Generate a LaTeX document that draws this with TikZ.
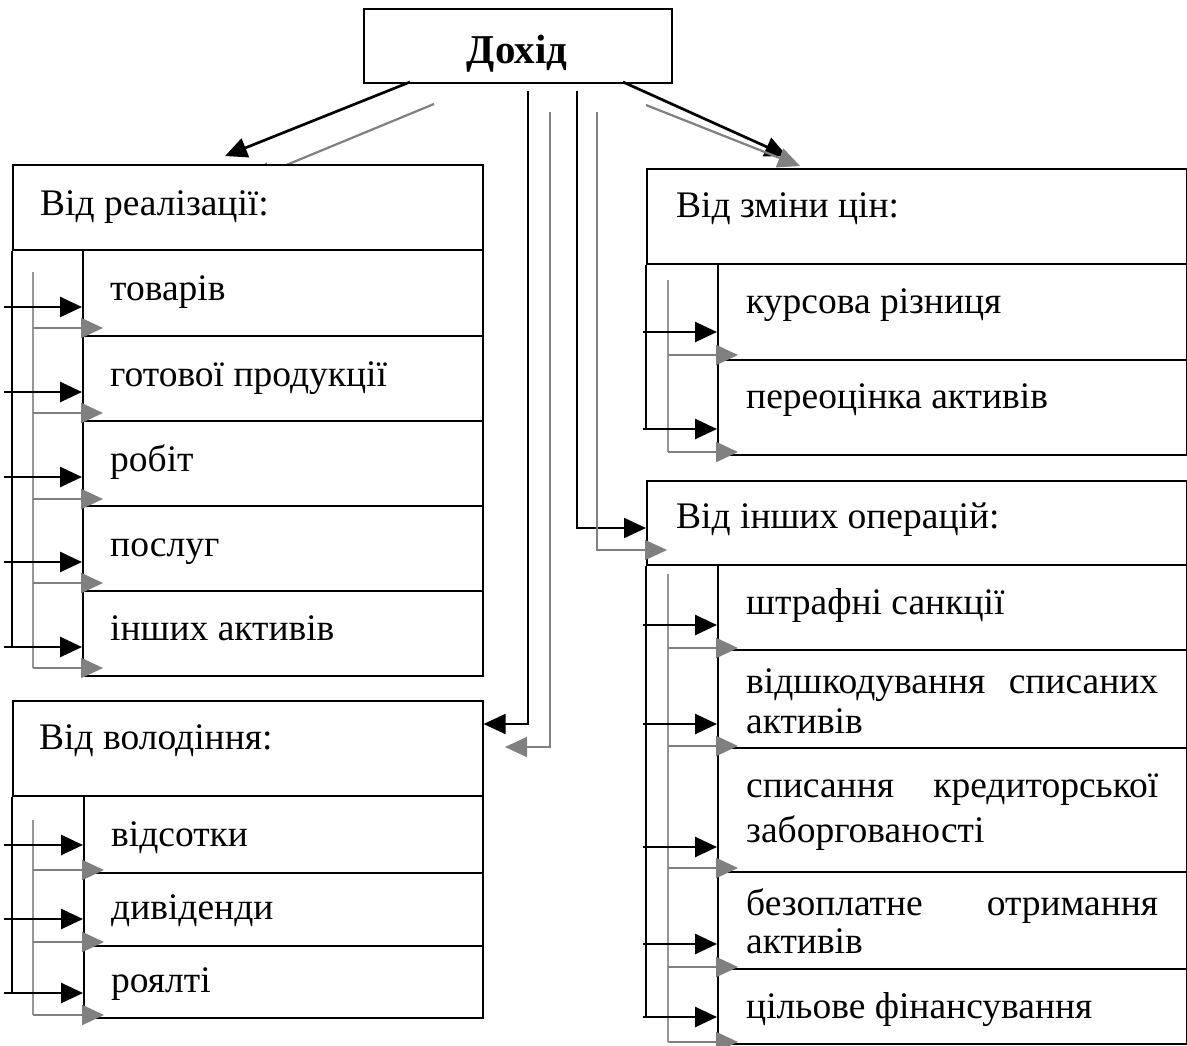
\documentclass[tikz,border=0pt]{standalone}
\usepackage{fontspec}
\setmainfont{Liberation Serif}
\usetikzlibrary{arrows.meta}
\definecolor{garr}{RGB}{128,128,128}
\definecolor{glin}{RGB}{150,150,150}
\begin{document}
\begin{tikzpicture}[x=1pt,y=-1pt,
 boxst/.style={draw=black, line width=1.6pt, fill=white, inner sep=0pt, anchor=north west},
 lbl/.style={inner sep=0pt, anchor=base west, font=\fontsize{37.5}{40}\selectfont},
 barrow/.style={draw=black, line width=2.7pt, -{Triangle[length=22pt,width=20pt]}},
 garrow/.style={draw=garr, line width=2.2pt, -{Triangle[length=22pt,width=20pt]}},
 bbus/.style={draw=black, line width=1.6pt},
 gbus/.style={draw=glin, line width=1.4pt},
]
\useasboundingbox[fill=white] (0,0) rectangle (1187,1045);

% top box
\node[boxst, minimum width=308pt, minimum height=74pt] (top) at (363,8) {};
\node[inner sep=0pt, anchor=base, font=\bfseries\fontsize{41}{44}\selectfont] (toptxt) at (517,63) {Дохід};

% diagonal arrows
\coordinate (dl1) at (410,82);
\coordinate (dl2) at (434,104);
\coordinate (dr1) at (623,82);
\coordinate (dr2) at (646,105);
\draw[garrow] (dl2) -- (250,180);
\draw[barrow] (dl1) -- (225,156);
\draw[barrow] (dr1) -- (787,156);
\draw[garrow] (dr2) -- (800,166);

% left top block
\node[boxst, minimum width=470pt, minimum height=85pt] (hr) at (12,164) {};
\node[boxst, minimum width=400pt, minimum height=86pt] (r1) at (82,249) {};
\node[boxst, minimum width=400pt, minimum height=85pt] (r2) at (82,335) {};
\node[boxst, minimum width=400pt, minimum height=85pt] (r3) at (82,420) {};
\node[boxst, minimum width=400pt, minimum height=85pt] (r4) at (82,505) {};
\node[boxst, minimum width=400pt, minimum height=85pt] (r5) at (82,590) {};
\draw[bbus] (hr.south west) -- (12,647);
\draw[gbus] (33,272) -- (33,668);
\foreach \n/\y in {r1/307,r2/392,r3/477,r4/562,r5/647} \draw[barrow] (4,\y) -- (\n.west |- 0,\y);
\foreach \y in {328,413,499,583,668} \draw[garrow] (33,\y) -- (103,\y);
\node[lbl] (thr) at (40,215) {Від реалізації:};
\node[lbl] (t1) at (110,300) {товарів};
\node[lbl] (t2) at (110,386) {готової продукції};
\node[lbl] (t3) at (110,471) {робіт};
\node[lbl] (t4) at (110,556) {послуг};
\node[lbl] (t5) at (110,640) {інших активів};

% left bottom block
\node[boxst, minimum width=470pt, minimum height=95pt] (hw) at (12,700) {};
\node[boxst, minimum width=399pt, minimum height=77pt] (w1) at (83,795) {};
\node[boxst, minimum width=399pt, minimum height=73pt] (w2) at (83,872) {};
\node[boxst, minimum width=399pt, minimum height=72pt] (w3) at (83,945) {};
\draw[bbus] (hw.south west) -- (12,993);
\draw[gbus] (33,820) -- (33,1015);
\foreach \n/\y in {w1/845,w2/919,w3/993} \draw[barrow] (4,\y) -- (\n.west |- 0,\y);
\foreach \y in {870,942,1015} \draw[garrow] (33,\y) -- (104,\y);
\node[lbl] (thw) at (39,749) {Від володіння:};
\node[lbl] (u1) at (111,846) {відсотки};
\node[lbl] (u2) at (111,919) {дивіденди};
\node[lbl] (u3) at (111,992) {роялті};

% right top block
\node[boxst, minimum width=540pt, minimum height=95pt] (hz) at (646,168) {};
\node[boxst, minimum width=469pt, minimum height=96pt] (z1) at (717,263) {};
\node[boxst, minimum width=469pt, minimum height=95pt] (z2) at (717,359) {};
\draw[bbus] (hz.south west) -- (646,429);
\draw[gbus] (668,280) -- (668,452);
\foreach \n/\y in {z1/332,z2/429} \draw[barrow] (643,\y) -- (\n.west |- 0,\y);
\foreach \y in {355,452} \draw[garrow] (668,\y) -- (738,\y);
\node[lbl] (thz) at (676,217) {Від зміни цін:};
\node[lbl] (v1) at (746,313) {курсова різниця};
\node[lbl] (v2) at (746,408) {переоцінка активів};

% right bottom block
\node[boxst, minimum width=540pt, minimum height=84pt] (ho) at (646,480) {};
\node[boxst, minimum width=469pt, minimum height=85pt] (o1) at (717,564) {};
\node[boxst, minimum width=469pt, minimum height=98pt] (o2) at (717,649) {};
\node[boxst, minimum width=469pt, minimum height=124pt] (o3) at (717,747) {};
\node[boxst, minimum width=469pt, minimum height=97pt] (o4) at (717,871) {};
\node[boxst, minimum width=469pt, minimum height=75pt] (o5) at (717,968) {};
\draw[bbus] (ho.south west) -- (646,1017);
\draw[gbus] (668,574) -- (668,1042);
\foreach \n/\y in {o1/625,o2/724,o3/847,o4/944,o5/1017} \draw[barrow] (643,\y) -- (\n.west |- 0,\y);
\foreach \y in {648,746,868,967,1042} \draw[garrow] (668,\y) -- (738,\y);
\node[lbl] (tho) at (676,528) {Від інших операцій:};
\node[lbl] (p1) at (746,614) {штрафні санкції};
\node[lbl] (p2a) at (746,693) {\hbox to 412pt{відшкодування\hfill списаних}};
\node[lbl] (p2b) at (746,733) {активів};
\node[lbl] (p3a) at (746,797) {\hbox to 412pt{списання\hfill кредиторської}};
\node[lbl] (p3b) at (746,842) {заборгованості};
\node[lbl] (p4a) at (746,915) {\hbox to 412pt{безоплатне\hfill отримання}};
\node[lbl] (p4b) at (746,953) {активів};
\node[lbl] (p5) at (746,1018) {цільове фінансування};

% middle connectors
\coordinate (m1) at (528,91);
\coordinate (m2) at (550,112);
\coordinate (m3) at (577,91);
\coordinate (m4) at (597,112);
\draw[draw=black, line width=2pt, -{Triangle[length=22pt,width=20pt]}] (m1) -- (528,724) -- (hw.east |- 0,724);
\draw[draw=garr, line width=1.6pt, -{Triangle[length=22pt,width=20pt]}] (m2) -- (550,747) -- (505,747);
\draw[draw=black, line width=2pt, -{Triangle[length=22pt,width=20pt]}] (m3) -- (577,528) -- (ho.west |- 0,528);
\draw[draw=garr, line width=1.6pt, -{Triangle[length=22pt,width=20pt]}] (m4) -- (597,550) -- (667,550);
\end{tikzpicture}
\end{document}
